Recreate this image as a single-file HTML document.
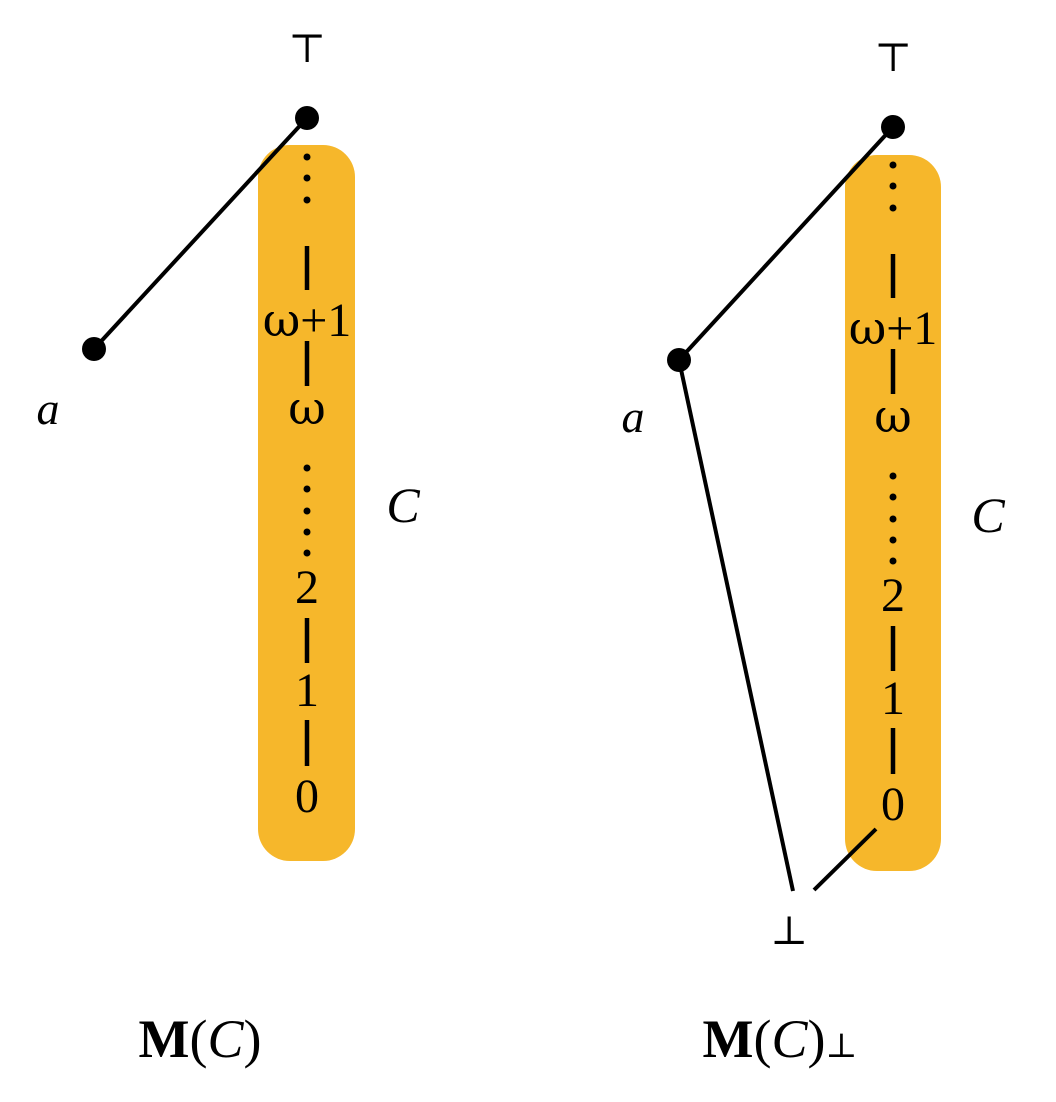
<!DOCTYPE html>
<html><head><meta charset="utf-8"><style>
html,body{margin:0;padding:0;background:#fff;}
svg{display:block}
text{font-family:"Liberation Serif","DejaVu Serif",serif;fill:#000}
.w{font-family:"DejaVu Serif","Liberation Serif",serif}
</style></head><body>
<svg width="1056" height="1102" viewBox="0 0 1056 1102" xmlns="http://www.w3.org/2000/svg">
<defs>
<g id="chain">
  <circle cx="0" cy="157" r="3.5"/><circle cx="0" cy="178" r="3.5"/><circle cx="0" cy="200" r="3.5"/>
  <line x1="0" y1="246" x2="0" y2="290" stroke="#000" stroke-width="4.5"/>
  <text x="0" y="336" font-size="48" text-anchor="middle"><tspan class="w" font-size="46">ω</tspan>+1</text>
  <line x1="0" y1="341" x2="0" y2="386" stroke="#000" stroke-width="4.5"/>
  <text x="0" y="424" font-size="46" text-anchor="middle" class="w">ω</text>
  <circle cx="0" cy="468" r="3.5"/><circle cx="0" cy="489" r="3.5"/><circle cx="0" cy="511" r="3.5"/><circle cx="0" cy="532" r="3.5"/><circle cx="0" cy="553" r="3.5"/>
  <text x="0" y="603" font-size="48" text-anchor="middle">2</text>
  <line x1="0" y1="618" x2="0" y2="663" stroke="#000" stroke-width="4.5"/>
  <text x="0" y="706" font-size="48" text-anchor="middle">1</text>
  <line x1="0" y1="720" x2="0" y2="766" stroke="#000" stroke-width="4.5"/>
  <text x="0" y="812" font-size="48" text-anchor="middle">0</text>
</g>
</defs>
<!-- left -->
<rect x="258" y="145" width="97" height="716" rx="32" fill="#F6B72B"/>
<line x1="94" y1="349" x2="307" y2="118" stroke="#000" stroke-width="4"/>
<circle cx="307" cy="118" r="12"/>
<circle cx="94" cy="349" r="12"/>
<text x="307" y="62" font-size="40" text-anchor="middle">⊤</text>
<use href="#chain" x="307" y="0"/>
<text x="48" y="424" font-size="46" font-style="italic" text-anchor="middle">a</text>
<text x="403" y="522" font-size="50" font-style="italic" text-anchor="middle">C</text>
<text x="200" y="1057" font-size="54" text-anchor="middle"><tspan font-weight="bold">M</tspan>(<tspan font-style="italic">C</tspan>)</text>
<!-- right -->
<rect x="845" y="155" width="96" height="716" rx="32" fill="#F6B72B"/>
<line x1="679" y1="360" x2="893" y2="127" stroke="#000" stroke-width="4"/>
<line x1="679" y1="360" x2="793" y2="891" stroke="#000" stroke-width="4"/>
<line x1="814" y1="890" x2="876" y2="829" stroke="#000" stroke-width="4"/>
<circle cx="893" cy="127" r="12"/>
<circle cx="679" cy="360" r="12"/>
<text x="893" y="71" font-size="40" text-anchor="middle">⊤</text>
<use href="#chain" x="893" y="8"/>
<text x="789" y="944" font-size="40" text-anchor="middle">⊥</text>
<text x="633" y="432" font-size="46" font-style="italic" text-anchor="middle">a</text>
<text x="988" y="532" font-size="50" font-style="italic" text-anchor="middle">C</text>
<text x="780" y="1057" font-size="54" text-anchor="middle"><tspan font-weight="bold">M</tspan>(<tspan font-style="italic">C</tspan>)<tspan font-size="34">⊥</tspan></text>
</svg>
</body></html>
